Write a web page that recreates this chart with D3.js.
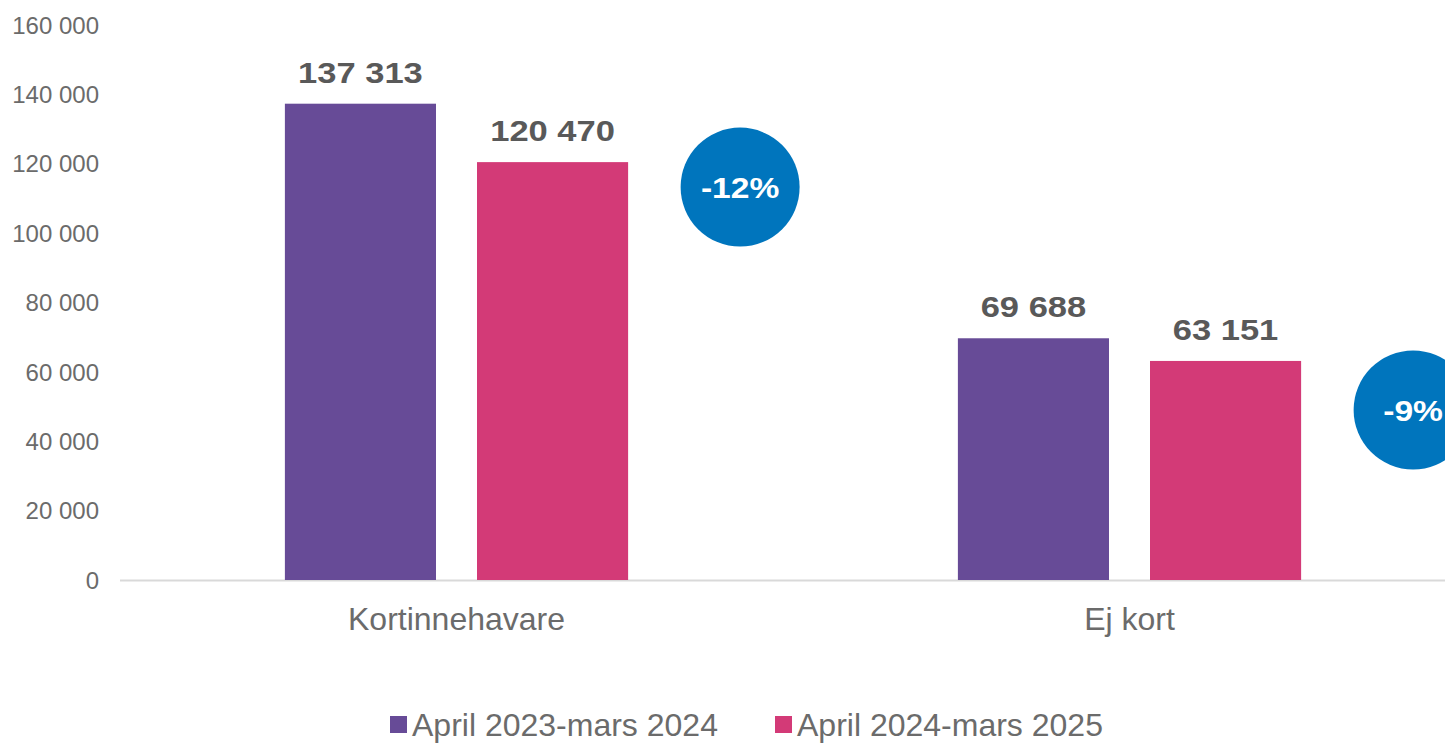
<!DOCTYPE html>
<html><head><meta charset="utf-8">
<script src="https://cdn.jsdelivr.net/npm/d3@7"></script>
<style>
html,body{margin:0;padding:0;background:#fff;overflow:hidden}
svg{display:block;font-family:"Liberation Sans",Arial,sans-serif}
</style></head>
<body><svg id="chart" width="1445" height="743"></svg>
<script>
const categories = ["Kortinnehavare", "Ej kort"];
const seriesNames = ["April 2023-mars 2024", "April 2024-mars 2025"];
const series2023 = [137313, 69688];
const series2024 = [120470, 63151];
const changeLabels = ["-12%", "-9%"];
const yTicks = [0, 20000, 40000, 60000, 80000, 100000, 120000, 140000, 160000];

const colors = ["#674B97", "#D33A77"];
const seriesValues = [series2023, series2024];

const svg = d3.select("#chart");
const fmt = v => d3.format(",")(v).replace(/,/g, " ");

const y = d3.scaleLinear().domain([0, 160000]).range([580, 25]);
const x0 = d3.scaleBand().domain(categories).range([120, 1466]).paddingInner(0.49).paddingOuter(0.245);
const x1 = d3.scaleBand().domain(seriesNames).range([0, x0.bandwidth()]).paddingInner(0.2135);

// y axis labels
const yAxis = d3.axisLeft(y).tickValues(yTicks).tickFormat(fmt).tickSize(0).tickPadding(0);
const gy = svg.append("g").attr("transform", "translate(99,0)").call(yAxis);
gy.select(".domain").remove();
gy.selectAll("text").attr("fill", "#6b6b6b").attr("font-size", 24)
  .attr("font-family", "Liberation Sans, Arial, sans-serif").attr("dy", "0.34em");

// x axis line
svg.append("line").attr("x1", 120).attr("x2", 1466).attr("y1", y(0) + 0.5).attr("y2", y(0) + 0.5)
  .attr("stroke", "#d9d9d9").attr("stroke-width", 2);

// x axis labels
const xAxis = d3.axisBottom(x0).tickSize(0).tickPadding(0);
const gx = svg.append("g").attr("transform", `translate(0,${y(0)})`).call(xAxis);
gx.select(".domain").remove();
gx.selectAll("text").attr("fill", "#6b6b6b").attr("font-size", 32)
  .attr("font-family", "Liberation Sans, Arial, sans-serif").attr("dy", null).attr("y", 50);

// bars
const groups = svg.append("g").selectAll("g").data(categories).join("g")
  .attr("transform", d => `translate(${x0(d)},0)`);
const cells = (c, i) => seriesNames.map((s, j) => ({s, j, v: seriesValues[j][i]}));
groups.selectAll("rect").data(cells)
  .join("rect")
  .attr("x", d => x1(d.s)).attr("width", x1.bandwidth())
  .attr("y", d => y(d.v)).attr("height", d => y(0) - y(d.v))
  .attr("fill", d => colors[d.j]);
groups.selectAll("g.val").data(cells)
  .join("g").attr("class", "val")
  .attr("transform", d => `translate(${x1(d.s) + x1.bandwidth() / 2},${y(d.v) - 21}) scale(1.15,1)`)
  .append("text")
  .attr("text-anchor", "middle").attr("font-size", 30).attr("font-weight", "bold")
  .attr("fill", "#595959").text(d => fmt(d.v));

// change badges
const badgeOffsets = [25, 49];
const badges = svg.append("g").selectAll("g").data(categories).join("g")
  .attr("transform", (c, i) => {
    const cx = x0(c) + x1(seriesNames[1]) + x1.bandwidth() + 112;
    const cy = y(series2024[i]) + badgeOffsets[i];
    return `translate(${cx},${cy})`;
  });
badges.append("circle").attr("r", 59.5).attr("fill", "#0075BD");
badges.append("g").attr("transform", "scale(1.12,1)").append("text")
  .attr("text-anchor", "middle").attr("dy", "0.36em")
  .attr("font-size", 30).attr("font-weight", "bold")
  .attr("fill", "#fff").text((c, i) => changeLabels[i]);

// legend
const legendX = [390, 775];
const lg = svg.append("g").selectAll("g").data(seriesNames).join("g")
  .attr("transform", (d, i) => `translate(${legendX[i]},0)`);
lg.append("rect").attr("x", 0).attr("y", 716).attr("width", 17).attr("height", 17)
  .attr("fill", (d, i) => colors[i]);
lg.append("text").attr("x", 22).attr("y", 736).attr("font-size", 32).attr("fill", "#6b6b6b")
  .text(d => d);
</script></body></html>
